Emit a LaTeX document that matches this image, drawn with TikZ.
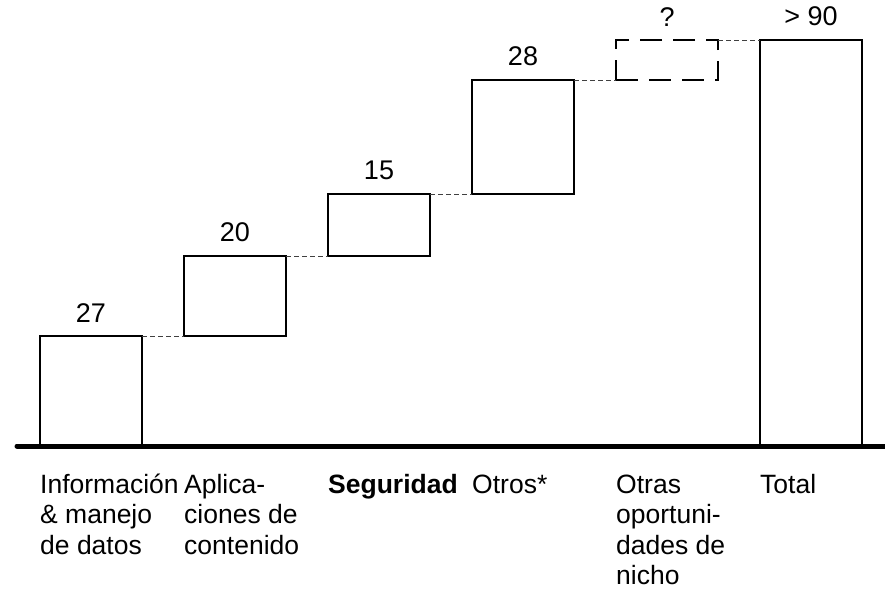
\documentclass[tikz,border=0pt]{standalone}
\usepackage{fontspec}
\setmainfont{Liberation Sans}
\usetikzlibrary{positioning}
\tikzset{
  bar/.style={draw, line width=2pt, inner sep=0pt, outer sep=0pt,
    minimum width=102pt, anchor=south west},
  guess/.style={bar, dash pattern=on 22pt off 11pt},
  link/.style={draw=black!75, line width=0.9pt, dash pattern=on 5pt off 3pt},
  num/.style={inner sep=0pt, font=\fontsize{27}{30.5}\selectfont},
  lab/.style={inner sep=0pt, anchor=north west, align=left,
    font=\fontsize{26.5}{30.5}\selectfont}
}
\begin{document}
\begin{tikzpicture}[x=1pt, y=-1pt]
      \useasboundingbox (0,0) rectangle (885,592);
      % waterfall bars
      \node[bar, minimum height=110pt] (info) at (40,446) {};
      \node[bar, minimum height=80pt] (apps) at ([xshift=42pt]info.north east) {};
      \node[bar, minimum height=62pt] (segur) at ([xshift=42pt]apps.north east) {};
      \node[bar, minimum height=114pt] (otros) at ([xshift=42pt]segur.north east) {};
      \node[guess, minimum height=40pt] (nicho) at ([xshift=42pt]otros.north east) {};
      \node[bar, minimum height=406pt] (total) at (760,446) {};
      % values
      \node[num, above=13.7pt of info] (infoval) {27};
      \node[num, above=13.7pt of apps] (appsval) {20};
      \node[num, above=13.7pt of segur] (segurval) {15};
      \node[num, above=13.7pt of otros] (otrosval) {28};
      \node[num, above=13.7pt of nicho] (nichoval) {?};
      \node[num, above=13.7pt of total] (totalval) {> 90};
      % dashed steps
      \begin{scope}[link]
        \draw (info.north east) -- (apps.south west);
        \draw (apps.north east) -- (segur.south west);
        \draw (segur.north east) -- (otros.south west);
        \draw (otros.north east) -- (nicho.south west);
        \draw (nicho.north east) -- (total.north west);
      \end{scope}
      % axis
      \coordinate (axl) at (17,446);
      \coordinate (axr) at (890,446);
      \draw[line width=5pt, line cap=round] (axl) -- (axr);
      % category labels
      \node[lab] (infolab) at ([yshift=-25.6pt]info.south west) {\strut Información\\\& manejo\\de datos};
      \node[lab] (appslab) at (apps.west |- infolab.north) {\strut Aplica-\\ciones de\\contenido};
      \node[lab] (segurlab) at (segur.west |- infolab.north) {\strut\textbf{Seguridad}};
      \node[lab] (otroslab) at (otros.west |- infolab.north) {\strut Otros*};
      \node[lab] (nicholab) at (nicho.west |- infolab.north) {\strut Otras\\oportuni-\\dades de\\nicho};
      \node[lab] (totallab) at (total.west |- infolab.north) {\strut Total};
\end{tikzpicture}
\end{document}
